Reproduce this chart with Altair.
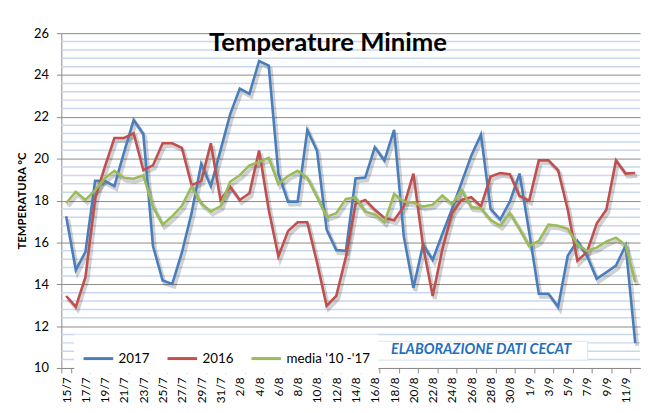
import altair as alt
import pandas as pd

dates = ["15/7", "16/7", "17/7", "18/7", "19/7", "20/7", "21/7", "22/7", "23/7", "24/7",
         "25/7", "26/7", "27/7", "28/7", "29/7", "30/7", "31/7",
         "1/8", "2/8", "3/8", "4/8", "5/8", "6/8", "7/8", "8/8", "9/8", "10/8",
         "11/8", "12/8", "13/8", "14/8", "15/8", "16/8", "17/8", "18/8", "19/8", "20/8",
         "21/8", "22/8", "23/8", "24/8", "25/8", "26/8", "27/8", "28/8", "29/8", "30/8", "31/8",
         "1/9", "2/9", "3/9", "4/9", "5/9", "6/9", "7/9", "8/9", "9/9", "10/9", "11/9", "12/9"]

t2017 = [17.25, 14.68, 15.55, 18.94, 18.94, 18.69, 20.3, 21.85, 21.18, 15.83,
         14.18, 14.02, 15.52, 17.4, 19.76, 18.69, 20.4, 22.12, 23.35, 23.1,
         24.67, 24.45, 19.29, 17.95, 17.95, 21.37, 20.39, 16.62, 15.64, 15.6,
         19.06, 19.1, 20.55, 19.92, 21.38, 16.3, 13.82, 15.9, 15.17, 16.4,
         17.6, 18.87, 20.14, 21.15, 17.6, 17.09, 17.95, 19.29, 16.5, 13.55,
         13.55, 12.92, 15.36, 16.07, 15.36, 14.26, 14.57, 14.89, 15.86, 11.19]

t2016 = [13.44, 12.92, 14.34, 18.11, 19.6, 20.99, 20.99, 21.21, 19.45, 19.68,
         20.74, 20.74, 20.52, 18.74, 18.93, 20.74, 18.03, 18.66, 18.03, 18.35,
         20.39, 17.56, 15.33, 16.54, 16.96, 16.96, 15.05, 12.97, 13.44, 15.3,
         17.84, 18.03, 17.56, 17.17, 17.06, 17.72, 19.29, 15.83, 13.44, 15.67,
         17.4, 18.03, 18.16, 17.72, 19.15, 19.32, 19.26, 18.22, 18.0, 19.92,
         19.92, 19.45, 17.56, 15.12, 15.55, 16.9, 17.56, 19.92, 19.29, 19.32]

media = [17.87, 18.42, 18.03, 18.5, 19.06, 19.42, 19.09, 19.04, 19.2, 17.72,
         16.85, 17.25, 17.75, 18.66, 17.87, 17.48, 17.72, 18.9, 19.21, 19.68,
         19.84, 20.05, 18.79, 19.17, 19.42, 19.1, 18.19, 17.22, 17.4, 18.08,
         18.15, 17.48, 17.33, 16.96, 18.32, 17.95, 17.9, 17.72, 17.8, 18.24,
         17.84, 18.5, 17.69, 17.64, 17.08, 16.8, 17.4, 16.65, 15.83, 16.07,
         16.85, 16.8, 16.65, 15.91, 15.59, 15.75, 16.04, 16.23, 15.86, 14.1]

series_names = ["2017", "2016", "media '10 -'17"]
series_colors = ["#4a7ebb", "#c0504d", "#9bbb59"]
major_ticks = [10, 12, 14, 16, 18, 20, 22, 24, 26]
minor_grid = [round(10 + 0.4 * k, 1) for k in range(41) if round(10 + 0.4 * k, 1) not in major_ticks]

rows = []
for name, vals in zip(series_names, [t2017, t2016, media]):
    for d, v in zip(dates, vals):
        rows.append({"date": d, "value": v, "series": name})
df = pd.DataFrame(rows)
grid_df = pd.DataFrame({"value": minor_grid})

FONT = "Lato"
yscale = alt.Scale(domain=[10, 26], nice=False, zero=False)
yaxis = alt.Axis(values=major_ticks, grid=True, gridColor="#8a8a8a", gridWidth=1,
                 domainColor="#8a8a8a", tickColor="#8a8a8a", tickSize=5,
                 labelFont=FONT, labelFontSize=13, labelPadding=8, labelColor="#000",
                 titleFont=FONT, titleFontSize=11.5, titleFontWeight="bold", titleColor="#000",
                 titlePadding=6)
ytitle = "TEMPERATURA  °C"

xscale = alt.Scale(type="band", domain=dates, paddingInner=0, paddingOuter=0)
xaxis = alt.Axis(values=dates[::2], tickBand="extent", labelAngle=270, labelAlign="right",
                 labelBaseline="middle", labelFont=FONT, labelFontSize=12, labelColor="#000",
                 labelPadding=4, tickSize=5, tickColor="#8a8a8a", domainColor="#8a8a8a",
                 grid=False, title=None, labelOverlap=False)

minor = alt.Chart(grid_df).mark_rule(color="#c8d8ee", strokeWidth=1.5).encode(
    y=alt.Y("value:Q", scale=yscale, axis=yaxis, title=ytitle)
)

shadow = alt.Chart(df).mark_line(color="#000000", opacity=0.18, strokeWidth=4,
                                 xOffset=2, yOffset=3).encode(
    x=alt.X("date:N", sort=dates, scale=xscale, axis=xaxis),
    y=alt.Y("value:Q", scale=yscale, axis=yaxis, title=ytitle),
    detail="series:N",
)

lines = alt.Chart(df).mark_line(strokeWidth=2.6).encode(
    x=alt.X("date:N", sort=dates, scale=xscale, axis=xaxis),
    y=alt.Y("value:Q", scale=yscale, axis=yaxis, title=ytitle),
    color=alt.Color("series:N", sort=series_names,
                    scale=alt.Scale(domain=series_names, range=series_colors),
                    legend=alt.Legend(orient="none", legendX=13, legendY=305,
                                      direction="horizontal", title=None,
                                      symbolType="stroke", symbolStrokeWidth=3,
                                      symbolSize=900, labelFont=FONT, labelFontSize=13.5,
                                      labelColor="#000", labelOffset=4, columnPadding=11,
                                      fillColor="#ffffff", padding=8)),
)

credit_box = alt.Chart(pd.DataFrame({"k": [0]})).mark_rect(
    fill="#ffffff", stroke="#dbe5f1", strokeWidth=1).encode(
    x=alt.value(313), x2=alt.value(533), y=alt.value(312), y2=alt.value(331)
)
credit = alt.Chart(pd.DataFrame({"t": ["ELABORAZIONE DATI CECAT"]})).mark_text(
    font=FONT, fontSize=14.5, fontWeight="bold", fontStyle="italic", color="#1f6fbf",
    align="center", baseline="middle").encode(
    text="t:N", x=alt.value(425), y=alt.value(321)
)
title = alt.Chart(pd.DataFrame({"t": ["Temperature Minime"]})).mark_text(
    font=FONT, fontSize=26, fontWeight="bold", color="#000",
    align="center", baseline="alphabetic").encode(
    text="t:N", x=alt.value(270), y=alt.value(18)
)

chart = alt.layer(minor, shadow, lines, credit_box, credit, title).properties(
    width=586, height=339,
    autosize=alt.AutoSizeParams(type="none"),
    padding={"left": 54, "top": 23, "right": 7, "bottom": 35},
    background="#ffffff",
).configure_view(stroke=None)

chart.save("out.html", embed_options={"renderer": "svg", "actions": False})
